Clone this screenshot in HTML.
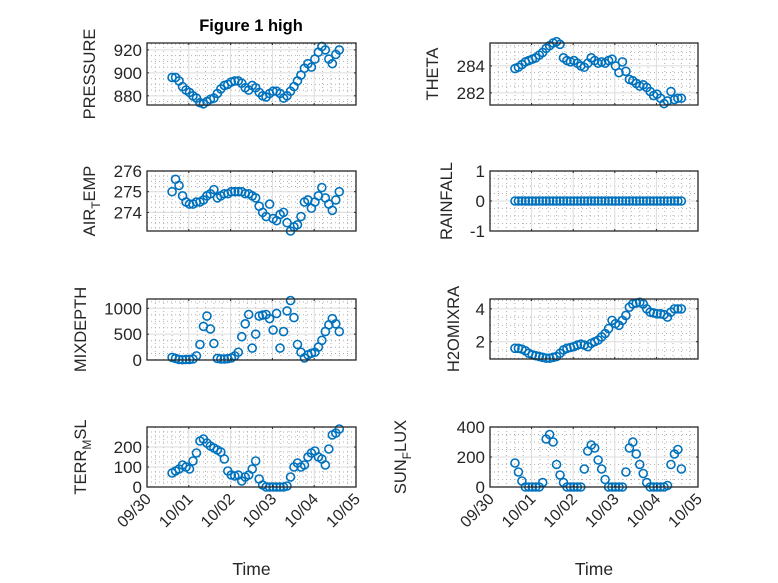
<!DOCTYPE html>
<html><head><meta charset="utf-8"><style>
html,body{margin:0;padding:0;background:#fff;}
svg{display:block;font-family:"Liberation Sans",sans-serif;}
</style></head><body>
<svg id="fig" width="778" height="583" viewBox="0 0 778 583" xmlns="http://www.w3.org/2000/svg">
<rect width="778" height="583" fill="#fff"/>
<text x="251" y="31" text-anchor="middle" font-size="16.5" font-weight="bold" fill="#000">Figure 1 high</text>
</svg>
<script>
const t0 = 0.6, dt = 1/12;
const xTickLabels = ["09/30","10/01","10/02","10/03","10/04","10/05"];
const pressure = [896,896,893,888,885,883,880,878,874,873,875,877,878,882,886,889,890,892,893,893,891,887,885,889,887,883,880,879,882,884,884,882,878,880,884,888,893,898,904,908,905,912,918,923,920,912,908,916,920];
const airTemp = [275.0,275.6,275.3,274.8,274.5,274.4,274.4,274.5,274.5,274.6,274.8,274.9,275.1,274.7,274.8,274.9,274.9,275.0,275.0,275.0,275.0,274.9,274.9,274.8,274.7,274.3,274.0,273.8,274.4,273.7,273.6,273.9,274.0,273.5,273.1,273.3,273.4,273.8,274.5,274.6,274.2,274.5,274.8,275.2,274.7,274.4,274.1,274.6,275.0];
const mixDepth = [50,30,10,5,10,10,20,80,300,650,850,600,320,30,20,20,25,40,80,150,450,700,880,230,500,850,870,880,800,580,900,230,550,950,1150,820,300,150,40,100,130,150,250,380,550,680,800,700,550];
const terrMsl = [70,80,90,110,100,90,130,170,230,240,220,205,195,185,175,140,80,60,55,60,30,50,60,90,130,40,10,0,0,0,0,0,0,5,50,100,120,100,110,150,170,180,150,140,110,190,260,270,290];
const theta = [283.8,283.9,284.1,284.3,284.4,284.5,284.6,284.8,285.0,285.3,285.5,285.7,285.8,285.6,284.6,284.4,284.3,284.4,284.2,284.0,283.9,284.2,284.6,284.4,284.2,284.3,284.2,284.4,284.5,284.0,283.5,284.3,283.6,283.0,282.9,282.7,282.5,282.6,282.4,282.1,281.8,281.9,281.6,281.2,281.4,282.1,281.5,281.6,281.6];
const rainfall = [0,0,0,0,0,0,0,0,0,0,0,0,0,0,0,0,0,0,0,0,0,0,0,0,0,0,0,0,0,0,0,0,0,0,0,0,0,0,0,0,0,0,0,0,0,0,0,0,0];
const h2o = [1.6,1.6,1.55,1.45,1.3,1.2,1.15,1.1,1.05,1.0,1.0,1.05,1.1,1.3,1.5,1.6,1.65,1.7,1.8,1.85,1.8,1.7,1.9,2.0,2.1,2.3,2.5,2.8,3.3,3.1,3.0,3.3,3.6,4.1,4.3,4.35,4.4,4.3,4.0,3.8,3.75,3.7,3.7,3.65,3.5,3.8,4.0,4.0,4.0];
const sunFlux = [160,100,40,0,0,0,0,0,30,320,350,300,150,80,30,0,0,0,0,0,120,240,280,260,180,120,50,0,0,0,0,0,100,260,300,220,150,90,30,0,0,0,0,0,10,150,220,250,120];

const NS = "http://www.w3.org/2000/svg";
const svg = document.getElementById("fig");
function mk(tag, attrs, parent){const e=document.createElementNS(NS,tag);for(const k in attrs)e.setAttribute(k,attrs[k]);(parent||svg).appendChild(e);return e;}

const panels = [
 {key:"pressure", label:["PRESSURE"], data:pressure, x0:147,x1:356,y0:43,y1:105, ymin:872,ymax:926, ticks:[880,900,920], lx:89, bottom:false},
 {key:"air-temp", label:["AIR","T","EMP"], data:airTemp, x0:147,x1:356,y0:171,y1:231, ymin:273.1,ymax:276, ticks:[274,275,276], lx:89, bottom:false},
 {key:"mixdepth", label:["MIXDEPTH"], data:mixDepth, x0:147,x1:356,y0:299,y1:360, ymin:0,ymax:1180, ticks:[0,500,1000], lx:80, bottom:false},
 {key:"terr-msl", label:["TERR","M","SL"], data:terrMsl, x0:147,x1:356,y0:427,y1:487, ymin:0,ymax:300, ticks:[0,100,200], lx:80, bottom:true},
 {key:"theta", label:["THETA"], data:theta, x0:490,x1:698,y0:43,y1:105, ymin:281.1,ymax:285.7, ticks:[282,284], lx:432, bottom:false},
 {key:"rainfall", label:["RAINFALL"], data:rainfall, x0:490,x1:698,y0:171,y1:231, ymin:-1,ymax:1, ticks:[-1,0,1], lx:446, bottom:false},
 {key:"h2omixra", label:["H2OMIXRA"], data:h2o, x0:490,x1:698,y0:299,y1:359, ymin:0.95,ymax:4.6, ticks:[2,4], lx:453, bottom:false},
 {key:"sun-flux", label:["SUN","F","LUX"], data:sunFlux, x0:490,x1:698,y0:427,y1:487, ymin:0,ymax:400, ticks:[0,200,400], lx:400, bottom:true}
];

panels.forEach(p=>{
  const g = mk("g",{});
  
  
  const xs = d => p.x0 + (d/5)*(p.x1-p.x0);
  const ys = v => p.y1 - (v-p.ymin)/(p.ymax-p.ymin)*(p.y1-p.y0);
  for(let d=0; d<5; d+=0.2){ if(Math.abs(d-Math.round(d))<1e-6) continue;
    mk("line",{x1:xs(d),x2:xs(d),y1:p.y0,y2:p.y1,stroke:"#b0b0b0","stroke-width":1,"stroke-dasharray":"1 3"},g);}
  const step = p.ticks.length>1 ? (p.ticks[1]-p.ticks[0])/4 : 1;
  for(let v=p.ticks[0]-8*step; v<=p.ymax; v+=step){ if(v<p.ymin) continue;
    const r=(v-p.ticks[0])/(step*4); if(Math.abs(r-Math.round(r))<1e-6) continue;
    mk("line",{x1:p.x0,x2:p.x1,y1:ys(v),y2:ys(v),stroke:"#b0b0b0","stroke-width":1,"stroke-dasharray":"1 3"},g);}
  for(let d=1; d<5; d++) mk("line",{x1:xs(d),x2:xs(d),y1:p.y0,y2:p.y1,stroke:"#dcdcdc","stroke-width":1},g);
  p.ticks.forEach(v=>{ if(v>p.ymin && v<p.ymax) mk("line",{x1:p.x0,x2:p.x1,y1:ys(v),y2:ys(v),stroke:"#dcdcdc","stroke-width":1},g);});
  p.data.forEach((v,i)=>{
    const c = mk("circle",{cx:xs(t0+i*dt),cy:ys(v),r:4,fill:"none",stroke:"#0072BD","stroke-width":1.6},g);
    
    
  });
  mk("rect",{x:p.x0,y:p.y0,width:p.x1-p.x0,height:p.y1-p.y0,fill:"none",stroke:"#262626","stroke-width":1.3},g);
  for(let d=0; d<=5; d++){
    mk("line",{x1:xs(d),x2:xs(d),y1:p.y1,y2:p.y1-2,stroke:"#262626"},g);
    mk("line",{x1:xs(d),x2:xs(d),y1:p.y0,y2:p.y0+2,stroke:"#262626"},g);
    if(p.bottom){
      const tx = mk("text",{x:xs(d)+5,y:p.y1+13,"text-anchor":"end","font-size":16,fill:"#262626",transform:`rotate(-45 ${xs(d)+5} ${p.y1+13})`},g);
      tx.textContent = xTickLabels[d];
      
      
    }
  }
  p.ticks.forEach(v=>{
    mk("line",{x1:p.x0,x2:p.x0+2,y1:ys(v),y2:ys(v),stroke:"#262626"},g);
    mk("line",{x1:p.x1,x2:p.x1-2,y1:ys(v),y2:ys(v),stroke:"#262626"},g);
    const tx = mk("text",{x:p.x0-5,y:ys(v)+6,"text-anchor":"end","font-size":17,fill:"#262626"},g);
    tx.textContent = String(v);
    
    
  });
  const cy = (p.y0+p.y1)/2;
  const lab = mk("text",{x:p.lx+6,y:cy,"text-anchor":"middle","font-size":16.5,fill:"#262626",transform:`rotate(-90 ${p.lx+6} ${cy})`},g);
  
  
  if(p.label.length===1){ lab.textContent=p.label[0]; }
  else{
    const a=mk("tspan",{},lab); a.textContent=p.label[0];
    const b=mk("tspan",{"font-size":12,dy:5},lab); b.textContent=p.label[1];
    const c=mk("tspan",{dy:-5},lab); c.textContent=p.label[2];
  }
  if(p.bottom){
    const xl = mk("text",{x:(p.x0+p.x1)/2,y:575,"text-anchor":"middle","font-size":17.5,fill:"#262626"},g);
    xl.textContent="Time";
    
    
  }
});
</script>
</body></html>
